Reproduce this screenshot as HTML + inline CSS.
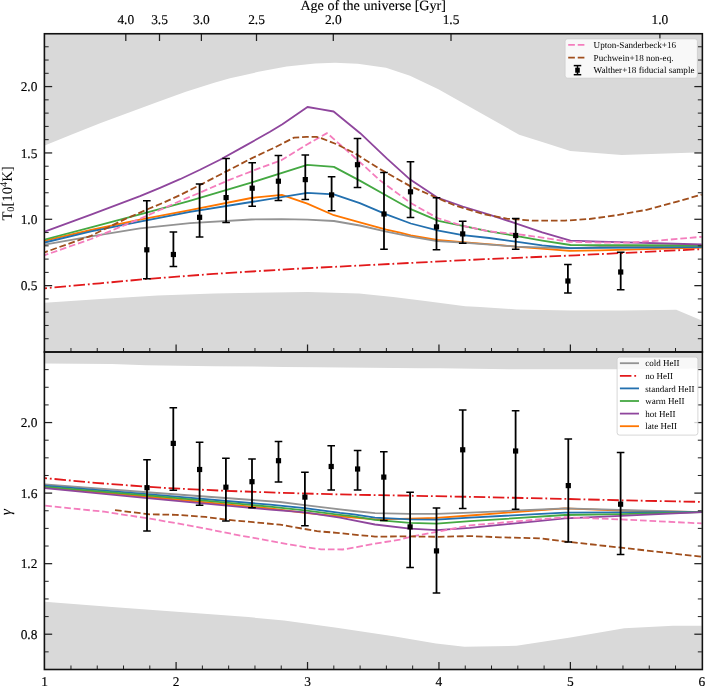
<!DOCTYPE html><html><head><meta charset="utf-8"><style>html,body{margin:0;padding:0;background:#fff;width:705px;height:686px;overflow:hidden}svg{display:block;will-change:transform;text-rendering:geometricPrecision}</style></head><body>
<svg width="705" height="686" viewBox="0 0 705 686">
<defs><clipPath id="ct"><rect x="44.67" y="33.50" width="657.15" height="318.50"/></clipPath><clipPath id="cb"><rect x="44.67" y="352.00" width="657.15" height="317.50"/></clipPath></defs>
<rect width="705" height="686" fill="#fff"/>
<g clip-path="url(#ct)">
<polygon points="44.67,33.50 44.67,145.40 72.40,134.30 100.70,123.00 129.10,112.50 157.50,102.00 185.80,91.80 214.20,82.70 230.00,78.30 242.60,75.60 258.40,71.80 286.70,66.40 315.10,63.50 335.00,62.70 357.70,63.80 386.00,67.80 410.00,75.70 438.40,89.30 519.20,134.70 546.20,143.20 570.30,150.90 621.70,155.00 695.70,152.50 701.82,152.30 701.82,33.50" fill="#d9d9d9"/>
<polygon points="44.67,352.00 44.67,302.80 100.70,299.00 157.50,295.60 214.20,293.50 240.00,293.00 308.10,292.10 359.10,293.50 393.20,296.90 427.20,301.30 465.20,306.30 480.00,307.10 516.60,309.40 570.40,310.60 621.70,310.60 676.20,309.80 701.82,320.50 701.82,352.00" fill="#d9d9d9"/>
<polyline points="44.67,240.60 91.00,230.00 140.00,219.60 190.00,210.20 251.20,198.00 281.80,194.80 307.30,203.60 333.90,215.20 359.80,222.40 386.30,229.60 400.00,232.60 410.80,235.30 437.00,240.00 462.50,242.10 500.00,245.10 515.70,246.70 569.50,250.80 600.00,250.30 701.80,247.60" style="fill:none;stroke:#ff7600;stroke-width:1.8;stroke-linejoin:round"/>
<polyline points="44.67,244.60 91.00,236.30 140.00,228.30 190.00,223.10 251.20,219.50 281.80,219.20 307.30,219.70 333.90,221.00 359.80,225.50 386.30,231.60 400.00,234.40 410.80,236.60 437.00,241.10 462.50,242.70 500.00,245.30 515.70,246.60 569.50,248.40 600.00,246.80 701.80,246.30" style="fill:none;stroke:#939393;stroke-width:1.8;stroke-linejoin:round"/>
<polyline points="44.67,288.30 100.00,283.30 146.80,279.00 213.50,273.90 290.00,269.10 389.30,264.00 480.00,259.40 575.80,255.30 701.80,249.10" style="fill:none;stroke:#e2191b;stroke-width:1.8;stroke-dasharray:11.52,2.88,1.8,2.88;stroke-linejoin:round;stroke-dashoffset:9.20"/>
<polyline points="44.67,242.50 91.00,231.40 140.00,221.70 190.00,211.80 251.20,202.00 307.30,192.90 333.90,194.30 359.80,203.10 386.30,214.30 410.80,223.50 438.40,230.60 462.70,235.10 489.20,238.00 515.70,241.60 542.20,245.30 570.50,248.10 701.80,247.10" style="fill:none;stroke:#2370af;stroke-width:1.8;stroke-linejoin:round"/>
<polyline points="44.67,239.50 91.00,227.30 140.00,214.40 188.00,201.30 251.20,182.70 307.30,164.90 333.90,166.90 359.80,180.60 386.30,195.50 410.80,209.20 438.40,220.80 462.70,225.80 489.20,231.40 515.70,235.90 542.20,240.60 570.50,245.00 701.80,245.50" style="fill:none;stroke:#44a842;stroke-width:1.8;stroke-linejoin:round"/>
<polyline points="44.67,231.60 91.00,214.60 140.00,196.20 160.00,187.80 180.00,179.20 200.00,169.80 220.00,159.70 245.00,145.90 270.00,131.80 282.40,124.20 307.50,107.00 320.00,109.20 333.60,111.50 360.20,133.20 387.00,158.60 410.20,179.60 437.30,197.60 462.70,206.50 489.20,214.70 515.70,223.30 542.20,232.40 570.50,240.60 600.00,241.70 701.80,244.50" style="fill:none;stroke:#8f469d;stroke-width:1.8;stroke-linejoin:round"/>
<polyline points="44.67,255.20 91.00,239.00 140.00,218.80 180.00,201.00 200.00,192.60 228.67,180.20 254.96,169.90 281.24,160.30 300.00,148.70 307.50,144.20 327.00,133.10 355.00,157.70 380.00,180.40 410.20,202.70 437.30,218.00 462.70,225.80 489.20,231.40 515.70,233.90 542.20,237.60 570.10,241.80 605.80,242.70 630.30,242.60 663.00,240.20 701.80,236.80" style="fill:none;stroke:#f47dbd;stroke-width:1.8;stroke-dasharray:6.66,2.88;stroke-linejoin:round;stroke-dashoffset:2.86"/>
<polyline points="44.67,252.30 91.00,235.80 124.40,219.40 148.70,208.80 163.30,202.70 180.00,195.10 200.00,185.00 230.90,169.10 250.00,159.10 275.00,147.30 294.10,137.60 306.40,136.90 316.60,136.90 321.70,138.30 337.50,144.60 355.00,153.40 380.00,169.10 410.20,186.10 436.00,197.50 454.50,205.30 483.10,214.10 507.60,218.80 532.00,220.60 565.00,220.60 589.50,219.00 616.00,215.30 646.60,209.80 677.20,201.60 701.80,194.50" style="fill:none;stroke:#a04e1c;stroke-width:1.8;stroke-dasharray:6.66,2.88;stroke-linejoin:round;stroke-dashoffset:3.36"/>
<g stroke="#000" stroke-width="1.5"><line x1="146.80" y1="200.80" x2="146.80" y2="278.70" stroke-width="1.8"/><line x1="143.00" y1="200.80" x2="150.60" y2="200.80"/><line x1="143.00" y1="278.70" x2="150.60" y2="278.70"/><line x1="173.40" y1="232.10" x2="173.40" y2="266.60" stroke-width="1.8"/><line x1="169.60" y1="232.10" x2="177.20" y2="232.10"/><line x1="169.60" y1="266.60" x2="177.20" y2="266.60"/><line x1="199.60" y1="184.10" x2="199.60" y2="237.10" stroke-width="1.8"/><line x1="195.80" y1="184.10" x2="203.40" y2="184.10"/><line x1="195.80" y1="237.10" x2="203.40" y2="237.10"/><line x1="226.10" y1="158.60" x2="226.10" y2="222.40" stroke-width="1.8"/><line x1="222.30" y1="158.60" x2="229.90" y2="158.60"/><line x1="222.30" y1="222.40" x2="229.90" y2="222.40"/><line x1="252.20" y1="162.70" x2="252.20" y2="206.30" stroke-width="1.8"/><line x1="248.40" y1="162.70" x2="256.00" y2="162.70"/><line x1="248.40" y1="206.30" x2="256.00" y2="206.30"/><line x1="278.40" y1="155.50" x2="278.40" y2="200.60" stroke-width="1.8"/><line x1="274.60" y1="155.50" x2="282.20" y2="155.50"/><line x1="274.60" y1="200.60" x2="282.20" y2="200.60"/><line x1="305.30" y1="155.10" x2="305.30" y2="199.40" stroke-width="1.8"/><line x1="301.50" y1="155.10" x2="309.10" y2="155.10"/><line x1="301.50" y1="199.40" x2="309.10" y2="199.40"/><line x1="331.60" y1="176.70" x2="331.60" y2="210.80" stroke-width="1.8"/><line x1="327.80" y1="176.70" x2="335.40" y2="176.70"/><line x1="327.80" y1="210.80" x2="335.40" y2="210.80"/><line x1="357.50" y1="138.40" x2="357.50" y2="187.60" stroke-width="1.8"/><line x1="353.70" y1="138.40" x2="361.30" y2="138.40"/><line x1="353.70" y1="187.60" x2="361.30" y2="187.60"/><line x1="384.00" y1="172.50" x2="384.00" y2="249.30" stroke-width="1.8"/><line x1="380.20" y1="172.50" x2="387.80" y2="172.50"/><line x1="380.20" y1="249.30" x2="387.80" y2="249.30"/><line x1="410.50" y1="161.70" x2="410.50" y2="217.60" stroke-width="1.8"/><line x1="406.70" y1="161.70" x2="414.30" y2="161.70"/><line x1="406.70" y1="217.60" x2="414.30" y2="217.60"/><line x1="436.50" y1="197.80" x2="436.50" y2="249.80" stroke-width="1.8"/><line x1="432.70" y1="197.80" x2="440.30" y2="197.80"/><line x1="432.70" y1="249.80" x2="440.30" y2="249.80"/><line x1="462.70" y1="221.20" x2="462.70" y2="243.30" stroke-width="1.8"/><line x1="458.90" y1="221.20" x2="466.50" y2="221.20"/><line x1="458.90" y1="243.30" x2="466.50" y2="243.30"/><line x1="515.70" y1="218.60" x2="515.70" y2="249.20" stroke-width="1.8"/><line x1="511.90" y1="218.60" x2="519.50" y2="218.60"/><line x1="511.90" y1="249.20" x2="519.50" y2="249.20"/><line x1="567.90" y1="264.50" x2="567.90" y2="293.10" stroke-width="1.8"/><line x1="564.10" y1="264.50" x2="571.70" y2="264.50"/><line x1="564.10" y1="293.10" x2="571.70" y2="293.10"/><line x1="620.70" y1="252.20" x2="620.70" y2="289.80" stroke-width="1.8"/><line x1="616.90" y1="252.20" x2="624.50" y2="252.20"/><line x1="616.90" y1="289.80" x2="624.50" y2="289.80"/></g><g fill="#000"><rect x="144.20" y="247.20" width="5.2" height="5.2"/><rect x="170.80" y="251.90" width="5.2" height="5.2"/><rect x="197.00" y="214.70" width="5.2" height="5.2"/><rect x="223.50" y="195.00" width="5.2" height="5.2"/><rect x="249.60" y="185.60" width="5.2" height="5.2"/><rect x="275.80" y="178.60" width="5.2" height="5.2"/><rect x="302.70" y="177.00" width="5.2" height="5.2"/><rect x="329.00" y="192.30" width="5.2" height="5.2"/><rect x="354.90" y="162.10" width="5.2" height="5.2"/><rect x="381.40" y="211.40" width="5.2" height="5.2"/><rect x="407.90" y="189.20" width="5.2" height="5.2"/><rect x="433.90" y="224.30" width="5.2" height="5.2"/><rect x="460.10" y="231.30" width="5.2" height="5.2"/><rect x="513.10" y="232.90" width="5.2" height="5.2"/><rect x="565.30" y="278.40" width="5.2" height="5.2"/><rect x="618.10" y="269.40" width="5.2" height="5.2"/></g>
</g>
<g clip-path="url(#cb)">
<polygon points="44.67,352.00 44.67,363.50 112.00,363.90 146.10,365.20 214.20,366.20 284.00,366.90 316.40,367.30 422.80,368.20 440.00,368.30 520.90,369.30 615.20,369.30 701.82,368.60 701.82,352.00" fill="#d9d9d9"/>
<polygon points="44.67,669.50 44.67,601.70 112.10,606.90 180.20,612.00 248.30,617.10 284.00,620.60 336.70,627.80 393.50,636.30 436.00,643.40 464.40,646.80 516.60,645.80 570.40,637.50 624.30,628.20 673.20,625.70 701.82,625.70 701.82,669.50" fill="#d9d9d9"/>
<polyline points="44.67,487.30 150.00,497.00 270.00,508.40 304.80,512.90 340.00,516.40 353.80,517.60 375.00,519.40 409.80,518.70 436.70,517.80 470.00,515.50 565.00,508.30 620.60,510.60 701.80,512.20" style="fill:none;stroke:#ff7600;stroke-width:1.8;stroke-linejoin:round"/>
<polyline points="44.67,484.40 150.00,492.50 280.00,502.00 304.80,505.20 329.60,508.20 353.80,511.00 375.00,513.20 409.80,513.80 436.70,513.80 470.00,512.60 565.00,508.30 620.60,509.90 701.80,512.20" style="fill:none;stroke:#939393;stroke-width:1.8;stroke-linejoin:round"/>
<polyline points="44.67,478.10 95.10,482.80 146.10,486.70 164.00,487.90 220.00,490.60 280.00,492.80 330.00,494.20 380.00,495.20 470.00,496.80 565.00,498.90 620.60,500.30 701.80,501.90" style="fill:none;stroke:#e2191b;stroke-width:1.8;stroke-dasharray:11.52,2.88,1.8,2.88;stroke-linejoin:round;stroke-dashoffset:9.20"/>
<polyline points="44.67,485.70 150.00,494.40 270.00,504.70 304.80,508.10 340.00,512.90 353.80,514.30 375.00,517.60 409.80,519.30 436.70,519.60 470.00,517.60 565.00,512.60 620.60,512.40 701.80,512.20" style="fill:none;stroke:#2370af;stroke-width:1.8;stroke-linejoin:round"/>
<polyline points="44.67,486.80 150.00,495.70 270.00,506.70 304.80,510.40 340.00,514.90 353.80,516.40 375.00,519.80 409.80,522.90 436.70,523.60 470.00,521.20 565.00,515.00 620.60,514.10 701.80,512.20" style="fill:none;stroke:#44a842;stroke-width:1.8;stroke-linejoin:round"/>
<polyline points="44.67,488.20 150.00,498.40 270.00,509.70 304.80,512.40 340.00,517.60 353.80,520.30 375.00,524.50 409.80,528.60 436.70,530.20 470.00,527.80 565.00,518.40 620.60,515.80 701.80,512.20" style="fill:none;stroke:#8f469d;stroke-width:1.8;stroke-linejoin:round"/>
<polyline points="44.67,505.60 104.00,511.70 150.00,518.70 165.00,521.30 186.90,525.00 210.90,529.70 238.00,535.10 270.00,540.80 290.40,544.60 305.00,547.20 321.00,549.30 342.50,549.50 356.70,547.20 370.90,544.40 385.00,542.00 400.00,539.60 409.80,537.00 436.70,531.80 470.00,525.40 565.00,517.20 620.60,519.40 701.80,523.40" style="fill:none;stroke:#f47dbd;stroke-width:1.8;stroke-dasharray:6.66,2.88;stroke-linejoin:round;stroke-dashoffset:-0.60"/>
<polyline points="115.00,510.20 150.00,514.30 175.80,514.80 205.30,516.90 227.40,519.80 253.30,522.20 280.00,524.70 304.80,529.00 317.00,531.20 336.70,532.80 353.80,534.60 375.00,536.60 409.80,536.40 436.70,536.80 470.00,536.10 500.00,537.30 539.70,538.30 567.50,541.80 619.10,547.40 701.80,556.80" style="fill:none;stroke:#a04e1c;stroke-width:1.8;stroke-dasharray:6.66,2.88;stroke-linejoin:round;stroke-dashoffset:0.00"/>
<g stroke="#000" stroke-width="1.5"><line x1="147.00" y1="459.70" x2="147.00" y2="531.10" stroke-width="1.8"/><line x1="143.20" y1="459.70" x2="150.80" y2="459.70"/><line x1="143.20" y1="531.10" x2="150.80" y2="531.10"/><line x1="173.30" y1="407.70" x2="173.30" y2="490.30" stroke-width="1.8"/><line x1="169.50" y1="407.70" x2="177.10" y2="407.70"/><line x1="169.50" y1="490.30" x2="177.10" y2="490.30"/><line x1="199.60" y1="442.30" x2="199.60" y2="505.20" stroke-width="1.8"/><line x1="195.80" y1="442.30" x2="203.40" y2="442.30"/><line x1="195.80" y1="505.20" x2="203.40" y2="505.20"/><line x1="225.90" y1="458.30" x2="225.90" y2="520.90" stroke-width="1.8"/><line x1="222.10" y1="458.30" x2="229.70" y2="458.30"/><line x1="222.10" y1="520.90" x2="229.70" y2="520.90"/><line x1="252.00" y1="458.90" x2="252.00" y2="507.70" stroke-width="1.8"/><line x1="248.20" y1="458.90" x2="255.80" y2="458.90"/><line x1="248.20" y1="507.70" x2="255.80" y2="507.70"/><line x1="278.50" y1="441.50" x2="278.50" y2="482.00" stroke-width="1.8"/><line x1="274.70" y1="441.50" x2="282.30" y2="441.50"/><line x1="274.70" y1="482.00" x2="282.30" y2="482.00"/><line x1="304.90" y1="472.20" x2="304.90" y2="525.70" stroke-width="1.8"/><line x1="301.10" y1="472.20" x2="308.70" y2="472.20"/><line x1="301.10" y1="525.70" x2="308.70" y2="525.70"/><line x1="331.20" y1="445.70" x2="331.20" y2="490.00" stroke-width="1.8"/><line x1="327.40" y1="445.70" x2="335.00" y2="445.70"/><line x1="327.40" y1="490.00" x2="335.00" y2="490.00"/><line x1="357.60" y1="450.60" x2="357.60" y2="490.00" stroke-width="1.8"/><line x1="353.80" y1="450.60" x2="361.40" y2="450.60"/><line x1="353.80" y1="490.00" x2="361.40" y2="490.00"/><line x1="383.80" y1="451.70" x2="383.80" y2="520.40" stroke-width="1.8"/><line x1="380.00" y1="451.70" x2="387.60" y2="451.70"/><line x1="380.00" y1="520.40" x2="387.60" y2="520.40"/><line x1="410.10" y1="492.30" x2="410.10" y2="567.50" stroke-width="1.8"/><line x1="406.30" y1="492.30" x2="413.90" y2="492.30"/><line x1="406.30" y1="567.50" x2="413.90" y2="567.50"/><line x1="436.50" y1="508.00" x2="436.50" y2="593.00" stroke-width="1.8"/><line x1="432.70" y1="508.00" x2="440.30" y2="508.00"/><line x1="432.70" y1="593.00" x2="440.30" y2="593.00"/><line x1="462.70" y1="409.90" x2="462.70" y2="508.50" stroke-width="1.8"/><line x1="458.90" y1="409.90" x2="466.50" y2="409.90"/><line x1="458.90" y1="508.50" x2="466.50" y2="508.50"/><line x1="515.60" y1="410.80" x2="515.60" y2="509.30" stroke-width="1.8"/><line x1="511.80" y1="410.80" x2="519.40" y2="410.80"/><line x1="511.80" y1="509.30" x2="519.40" y2="509.30"/><line x1="568.30" y1="439.10" x2="568.30" y2="541.90" stroke-width="1.8"/><line x1="564.50" y1="439.10" x2="572.10" y2="439.10"/><line x1="564.50" y1="541.90" x2="572.10" y2="541.90"/><line x1="620.60" y1="452.40" x2="620.60" y2="554.40" stroke-width="1.8"/><line x1="616.80" y1="452.40" x2="624.40" y2="452.40"/><line x1="616.80" y1="554.40" x2="624.40" y2="554.40"/></g><g fill="#000"><rect x="144.40" y="485.10" width="5.2" height="5.2"/><rect x="170.70" y="440.80" width="5.2" height="5.2"/><rect x="197.00" y="466.90" width="5.2" height="5.2"/><rect x="223.30" y="484.60" width="5.2" height="5.2"/><rect x="249.40" y="479.10" width="5.2" height="5.2"/><rect x="275.90" y="458.10" width="5.2" height="5.2"/><rect x="302.30" y="494.50" width="5.2" height="5.2"/><rect x="328.60" y="463.90" width="5.2" height="5.2"/><rect x="355.00" y="466.40" width="5.2" height="5.2"/><rect x="381.20" y="474.50" width="5.2" height="5.2"/><rect x="407.50" y="524.30" width="5.2" height="5.2"/><rect x="433.90" y="548.30" width="5.2" height="5.2"/><rect x="460.10" y="447.20" width="5.2" height="5.2"/><rect x="513.00" y="448.40" width="5.2" height="5.2"/><rect x="565.70" y="483.00" width="5.2" height="5.2"/><rect x="618.00" y="501.60" width="5.2" height="5.2"/></g>
</g>
<g stroke="#222">
<line x1="44.67" y1="285.65" x2="52.17" y2="285.65" stroke-width="1.25"/><line x1="701.82" y1="285.65" x2="694.32" y2="285.65" stroke-width="1.25"/><line x1="44.67" y1="219.29" x2="52.17" y2="219.29" stroke-width="1.25"/><line x1="701.82" y1="219.29" x2="694.32" y2="219.29" stroke-width="1.25"/><line x1="44.67" y1="152.94" x2="52.17" y2="152.94" stroke-width="1.25"/><line x1="701.82" y1="152.94" x2="694.32" y2="152.94" stroke-width="1.25"/><line x1="44.67" y1="86.58" x2="52.17" y2="86.58" stroke-width="1.25"/><line x1="701.82" y1="86.58" x2="694.32" y2="86.58" stroke-width="1.25"/><line x1="44.67" y1="338.73" x2="48.67" y2="338.73" stroke-width="1"/><line x1="701.82" y1="338.73" x2="697.82" y2="338.73" stroke-width="1"/><line x1="44.67" y1="325.46" x2="48.67" y2="325.46" stroke-width="1"/><line x1="701.82" y1="325.46" x2="697.82" y2="325.46" stroke-width="1"/><line x1="44.67" y1="312.19" x2="48.67" y2="312.19" stroke-width="1"/><line x1="701.82" y1="312.19" x2="697.82" y2="312.19" stroke-width="1"/><line x1="44.67" y1="298.92" x2="48.67" y2="298.92" stroke-width="1"/><line x1="701.82" y1="298.92" x2="697.82" y2="298.92" stroke-width="1"/><line x1="44.67" y1="272.38" x2="48.67" y2="272.38" stroke-width="1"/><line x1="701.82" y1="272.38" x2="697.82" y2="272.38" stroke-width="1"/><line x1="44.67" y1="259.10" x2="48.67" y2="259.10" stroke-width="1"/><line x1="701.82" y1="259.10" x2="697.82" y2="259.10" stroke-width="1"/><line x1="44.67" y1="245.83" x2="48.67" y2="245.83" stroke-width="1"/><line x1="701.82" y1="245.83" x2="697.82" y2="245.83" stroke-width="1"/><line x1="44.67" y1="232.56" x2="48.67" y2="232.56" stroke-width="1"/><line x1="701.82" y1="232.56" x2="697.82" y2="232.56" stroke-width="1"/><line x1="44.67" y1="206.02" x2="48.67" y2="206.02" stroke-width="1"/><line x1="701.82" y1="206.02" x2="697.82" y2="206.02" stroke-width="1"/><line x1="44.67" y1="192.75" x2="48.67" y2="192.75" stroke-width="1"/><line x1="701.82" y1="192.75" x2="697.82" y2="192.75" stroke-width="1"/><line x1="44.67" y1="179.48" x2="48.67" y2="179.48" stroke-width="1"/><line x1="701.82" y1="179.48" x2="697.82" y2="179.48" stroke-width="1"/><line x1="44.67" y1="166.21" x2="48.67" y2="166.21" stroke-width="1"/><line x1="701.82" y1="166.21" x2="697.82" y2="166.21" stroke-width="1"/><line x1="44.67" y1="139.67" x2="48.67" y2="139.67" stroke-width="1"/><line x1="701.82" y1="139.67" x2="697.82" y2="139.67" stroke-width="1"/><line x1="44.67" y1="126.40" x2="48.67" y2="126.40" stroke-width="1"/><line x1="701.82" y1="126.40" x2="697.82" y2="126.40" stroke-width="1"/><line x1="44.67" y1="113.12" x2="48.67" y2="113.12" stroke-width="1"/><line x1="701.82" y1="113.12" x2="697.82" y2="113.12" stroke-width="1"/><line x1="44.67" y1="99.85" x2="48.67" y2="99.85" stroke-width="1"/><line x1="701.82" y1="99.85" x2="697.82" y2="99.85" stroke-width="1"/><line x1="44.67" y1="73.31" x2="48.67" y2="73.31" stroke-width="1"/><line x1="701.82" y1="73.31" x2="697.82" y2="73.31" stroke-width="1"/><line x1="44.67" y1="60.04" x2="48.67" y2="60.04" stroke-width="1"/><line x1="701.82" y1="60.04" x2="697.82" y2="60.04" stroke-width="1"/><line x1="44.67" y1="46.77" x2="48.67" y2="46.77" stroke-width="1"/><line x1="701.82" y1="46.77" x2="697.82" y2="46.77" stroke-width="1"/>
<line x1="44.67" y1="634.22" x2="52.17" y2="634.22" stroke-width="1.25"/><line x1="701.82" y1="634.22" x2="694.32" y2="634.22" stroke-width="1.25"/><line x1="44.67" y1="563.67" x2="52.17" y2="563.67" stroke-width="1.25"/><line x1="701.82" y1="563.67" x2="694.32" y2="563.67" stroke-width="1.25"/><line x1="44.67" y1="493.11" x2="52.17" y2="493.11" stroke-width="1.25"/><line x1="701.82" y1="493.11" x2="694.32" y2="493.11" stroke-width="1.25"/><line x1="44.67" y1="422.56" x2="52.17" y2="422.56" stroke-width="1.25"/><line x1="701.82" y1="422.56" x2="694.32" y2="422.56" stroke-width="1.25"/><line x1="44.67" y1="651.86" x2="48.67" y2="651.86" stroke-width="1"/><line x1="701.82" y1="651.86" x2="697.82" y2="651.86" stroke-width="1"/><line x1="44.67" y1="616.58" x2="48.67" y2="616.58" stroke-width="1"/><line x1="701.82" y1="616.58" x2="697.82" y2="616.58" stroke-width="1"/><line x1="44.67" y1="598.94" x2="48.67" y2="598.94" stroke-width="1"/><line x1="701.82" y1="598.94" x2="697.82" y2="598.94" stroke-width="1"/><line x1="44.67" y1="581.31" x2="48.67" y2="581.31" stroke-width="1"/><line x1="701.82" y1="581.31" x2="697.82" y2="581.31" stroke-width="1"/><line x1="44.67" y1="546.03" x2="48.67" y2="546.03" stroke-width="1"/><line x1="701.82" y1="546.03" x2="697.82" y2="546.03" stroke-width="1"/><line x1="44.67" y1="528.39" x2="48.67" y2="528.39" stroke-width="1"/><line x1="701.82" y1="528.39" x2="697.82" y2="528.39" stroke-width="1"/><line x1="44.67" y1="510.75" x2="48.67" y2="510.75" stroke-width="1"/><line x1="701.82" y1="510.75" x2="697.82" y2="510.75" stroke-width="1"/><line x1="44.67" y1="475.47" x2="48.67" y2="475.47" stroke-width="1"/><line x1="701.82" y1="475.47" x2="697.82" y2="475.47" stroke-width="1"/><line x1="44.67" y1="457.83" x2="48.67" y2="457.83" stroke-width="1"/><line x1="701.82" y1="457.83" x2="697.82" y2="457.83" stroke-width="1"/><line x1="44.67" y1="440.19" x2="48.67" y2="440.19" stroke-width="1"/><line x1="701.82" y1="440.19" x2="697.82" y2="440.19" stroke-width="1"/><line x1="44.67" y1="404.92" x2="48.67" y2="404.92" stroke-width="1"/><line x1="701.82" y1="404.92" x2="697.82" y2="404.92" stroke-width="1"/><line x1="44.67" y1="387.28" x2="48.67" y2="387.28" stroke-width="1"/><line x1="701.82" y1="387.28" x2="697.82" y2="387.28" stroke-width="1"/><line x1="44.67" y1="369.64" x2="48.67" y2="369.64" stroke-width="1"/><line x1="701.82" y1="369.64" x2="697.82" y2="369.64" stroke-width="1"/>
<line x1="70.96" y1="352.00" x2="70.96" y2="348.00" stroke-width="1"/><line x1="97.24" y1="352.00" x2="97.24" y2="348.00" stroke-width="1"/><line x1="123.53" y1="352.00" x2="123.53" y2="348.00" stroke-width="1"/><line x1="149.81" y1="352.00" x2="149.81" y2="348.00" stroke-width="1"/><line x1="176.10" y1="352.00" x2="176.10" y2="344.50" stroke-width="1.25"/><line x1="202.39" y1="352.00" x2="202.39" y2="348.00" stroke-width="1"/><line x1="228.67" y1="352.00" x2="228.67" y2="348.00" stroke-width="1"/><line x1="254.96" y1="352.00" x2="254.96" y2="348.00" stroke-width="1"/><line x1="281.24" y1="352.00" x2="281.24" y2="348.00" stroke-width="1"/><line x1="307.53" y1="352.00" x2="307.53" y2="344.50" stroke-width="1.25"/><line x1="333.82" y1="352.00" x2="333.82" y2="348.00" stroke-width="1"/><line x1="360.10" y1="352.00" x2="360.10" y2="348.00" stroke-width="1"/><line x1="386.39" y1="352.00" x2="386.39" y2="348.00" stroke-width="1"/><line x1="412.67" y1="352.00" x2="412.67" y2="348.00" stroke-width="1"/><line x1="438.96" y1="352.00" x2="438.96" y2="344.50" stroke-width="1.25"/><line x1="465.25" y1="352.00" x2="465.25" y2="348.00" stroke-width="1"/><line x1="491.53" y1="352.00" x2="491.53" y2="348.00" stroke-width="1"/><line x1="517.82" y1="352.00" x2="517.82" y2="348.00" stroke-width="1"/><line x1="544.10" y1="352.00" x2="544.10" y2="348.00" stroke-width="1"/><line x1="570.39" y1="352.00" x2="570.39" y2="344.50" stroke-width="1.25"/><line x1="596.68" y1="352.00" x2="596.68" y2="348.00" stroke-width="1"/><line x1="622.96" y1="352.00" x2="622.96" y2="348.00" stroke-width="1"/><line x1="649.25" y1="352.00" x2="649.25" y2="348.00" stroke-width="1"/><line x1="675.53" y1="352.00" x2="675.53" y2="348.00" stroke-width="1"/>
<line x1="70.96" y1="669.50" x2="70.96" y2="665.50" stroke-width="1"/><line x1="97.24" y1="669.50" x2="97.24" y2="665.50" stroke-width="1"/><line x1="123.53" y1="669.50" x2="123.53" y2="665.50" stroke-width="1"/><line x1="149.81" y1="669.50" x2="149.81" y2="665.50" stroke-width="1"/><line x1="176.10" y1="669.50" x2="176.10" y2="662.00" stroke-width="1.25"/><line x1="202.39" y1="669.50" x2="202.39" y2="665.50" stroke-width="1"/><line x1="228.67" y1="669.50" x2="228.67" y2="665.50" stroke-width="1"/><line x1="254.96" y1="669.50" x2="254.96" y2="665.50" stroke-width="1"/><line x1="281.24" y1="669.50" x2="281.24" y2="665.50" stroke-width="1"/><line x1="307.53" y1="669.50" x2="307.53" y2="662.00" stroke-width="1.25"/><line x1="333.82" y1="669.50" x2="333.82" y2="665.50" stroke-width="1"/><line x1="360.10" y1="669.50" x2="360.10" y2="665.50" stroke-width="1"/><line x1="386.39" y1="669.50" x2="386.39" y2="665.50" stroke-width="1"/><line x1="412.67" y1="669.50" x2="412.67" y2="665.50" stroke-width="1"/><line x1="438.96" y1="669.50" x2="438.96" y2="662.00" stroke-width="1.25"/><line x1="465.25" y1="669.50" x2="465.25" y2="665.50" stroke-width="1"/><line x1="491.53" y1="669.50" x2="491.53" y2="665.50" stroke-width="1"/><line x1="517.82" y1="669.50" x2="517.82" y2="665.50" stroke-width="1"/><line x1="544.10" y1="669.50" x2="544.10" y2="665.50" stroke-width="1"/><line x1="570.39" y1="669.50" x2="570.39" y2="662.00" stroke-width="1.25"/><line x1="596.68" y1="669.50" x2="596.68" y2="665.50" stroke-width="1"/><line x1="622.96" y1="669.50" x2="622.96" y2="665.50" stroke-width="1"/><line x1="649.25" y1="669.50" x2="649.25" y2="665.50" stroke-width="1"/><line x1="675.53" y1="669.50" x2="675.53" y2="665.50" stroke-width="1"/>
<line x1="125.80" y1="33.50" x2="125.80" y2="41.00" stroke-width="1.25"/>
<line x1="159.50" y1="33.50" x2="159.50" y2="41.00" stroke-width="1.25"/>
<line x1="201.40" y1="33.50" x2="201.40" y2="41.00" stroke-width="1.25"/>
<line x1="256.50" y1="33.50" x2="256.50" y2="41.00" stroke-width="1.25"/>
<line x1="333.30" y1="33.50" x2="333.30" y2="41.00" stroke-width="1.25"/>
<line x1="451.00" y1="33.50" x2="451.00" y2="41.00" stroke-width="1.25"/>
<line x1="659.90" y1="33.50" x2="659.90" y2="41.00" stroke-width="1.25"/>
</g>
<g fill="none" stroke="#111" stroke-width="1.6">
<rect x="44.40" y="33.75" width="657.95" height="318.25"/>
<rect x="44.40" y="352.00" width="657.95" height="317.50"/>
</g>
<g style="font-family:&quot;Liberation Serif&quot;,serif;font-size:13.4px" fill="#000" stroke="#000" stroke-width="0.15"><text transform="translate(37.4,290.25) scale(1,1.0)" text-anchor="end">0.5</text><text transform="translate(37.4,223.89) scale(1,1.0)" text-anchor="end">1.0</text><text transform="translate(37.4,157.54) scale(1,1.0)" text-anchor="end">1.5</text><text transform="translate(37.4,91.18) scale(1,1.0)" text-anchor="end">2.0</text><text transform="translate(37.4,638.82) scale(1,1.0)" text-anchor="end">0.8</text><text transform="translate(37.4,568.27) scale(1,1.0)" text-anchor="end">1.2</text><text transform="translate(37.4,497.71) scale(1,1.0)" text-anchor="end">1.6</text><text transform="translate(37.4,427.16) scale(1,1.0)" text-anchor="end">2.0</text><text transform="translate(44.67,686.2) scale(1,1.0)" text-anchor="middle">1</text><text transform="translate(176.10,686.2) scale(1,1.0)" text-anchor="middle">2</text><text transform="translate(307.53,686.2) scale(1,1.0)" text-anchor="middle">3</text><text transform="translate(438.96,686.2) scale(1,1.0)" text-anchor="middle">4</text><text transform="translate(570.39,686.2) scale(1,1.0)" text-anchor="middle">5</text><text transform="translate(701.82,686.2) scale(1,1.0)" text-anchor="middle">6</text><text transform="translate(125.80,24.2) scale(1,1.0)" text-anchor="middle">4.0</text><text transform="translate(159.50,24.2) scale(1,1.0)" text-anchor="middle">3.5</text><text transform="translate(201.40,24.2) scale(1,1.0)" text-anchor="middle">3.0</text><text transform="translate(256.50,24.2) scale(1,1.0)" text-anchor="middle">2.5</text><text transform="translate(333.30,24.2) scale(1,1.0)" text-anchor="middle">2.0</text><text transform="translate(451.00,24.2) scale(1,1.0)" text-anchor="middle">1.5</text><text transform="translate(659.90,24.2) scale(1,1.0)" text-anchor="middle">1.0</text></g>
<text x="373.2" y="10.3" text-anchor="middle" stroke="#000" stroke-width="0.12" style="font-family:&quot;Liberation Serif&quot;,serif;font-size:14.1px">Age of the universe [Gyr]</text>
<text transform="translate(12.4,193.5) rotate(-90)" text-anchor="middle" style="font-family:&quot;Liberation Serif&quot;,serif;font-size:14.6px">T<tspan dy="1.4" font-size="10.2px">0</tspan><tspan dy="-1.4">[10</tspan><tspan dy="-5.5" font-size="10.4px">4</tspan><tspan dy="5.5">K]</tspan></text>
<text transform="translate(10.9,512.2) rotate(-90)" text-anchor="middle" style="font-family:&quot;Liberation Serif&quot;,serif;font-size:15.5px;font-style:italic">γ</text>
<rect x="565.10" y="38.80" width="132.30" height="39.40" rx="2.5" fill="#fff" fill-opacity="0.8" stroke="#ccc" stroke-opacity="0.8" stroke-width="1"/><line x1="568.20" y1="44.80" x2="584.70" y2="44.80" style="stroke:#f47dbd;stroke-width:1.8;stroke-dasharray:6.66,2.88"/><text x="593.60" y="48.00" style="font-family:&quot;Liberation Serif&quot;,serif;font-size:9.1px">Upton-Sanderbeck+16</text><line x1="568.20" y1="57.60" x2="584.70" y2="57.60" style="stroke:#a04e1c;stroke-width:1.8;stroke-dasharray:6.66,2.88"/><text x="593.60" y="60.80" style="font-family:&quot;Liberation Serif&quot;,serif;font-size:9.1px">Puchwein+18 non-eq.</text><g stroke="#000" stroke-width="1.5"><line x1="577.50" y1="65.60" x2="577.50" y2="74.70"/><line x1="573.75" y1="65.60" x2="581.25" y2="65.60"/><line x1="573.75" y1="74.70" x2="581.25" y2="74.70"/></g><rect x="575.20" y="67.70" width="4.6" height="5"/><text x="593.60" y="73.40" style="font-family:&quot;Liberation Serif&quot;,serif;font-size:9.1px">Walther+18 fiducial sample</text>
<rect x="617.10" y="357.10" width="80.80" height="78.00" rx="2.5" fill="#fff" fill-opacity="0.8" stroke="#ccc" stroke-opacity="0.8" stroke-width="1"/><line x1="619.90" y1="363.20" x2="639.00" y2="363.20" style="stroke:#939393;stroke-width:1.8"/><text x="645.20" y="366.40" style="font-family:&quot;Liberation Serif&quot;,serif;font-size:9px">cold HeII</text><line x1="619.90" y1="375.80" x2="639.00" y2="375.80" style="stroke:#e2191b;stroke-width:1.8;stroke-dasharray:11.52,2.88,1.8,2.88"/><text x="645.20" y="379.00" style="font-family:&quot;Liberation Serif&quot;,serif;font-size:9px">no HeII</text><line x1="619.90" y1="388.40" x2="639.00" y2="388.40" style="stroke:#2370af;stroke-width:1.8"/><text x="645.20" y="391.60" style="font-family:&quot;Liberation Serif&quot;,serif;font-size:9px">standard HeII</text><line x1="619.90" y1="401.00" x2="639.00" y2="401.00" style="stroke:#44a842;stroke-width:1.8"/><text x="645.20" y="404.20" style="font-family:&quot;Liberation Serif&quot;,serif;font-size:9px">warm HeII</text><line x1="619.90" y1="413.60" x2="639.00" y2="413.60" style="stroke:#8f469d;stroke-width:1.8"/><text x="645.20" y="416.80" style="font-family:&quot;Liberation Serif&quot;,serif;font-size:9px">hot HeII</text><line x1="619.90" y1="426.20" x2="639.00" y2="426.20" style="stroke:#ff7600;stroke-width:1.8"/><text x="645.20" y="429.40" style="font-family:&quot;Liberation Serif&quot;,serif;font-size:9px">late HeII</text>
</svg></body></html>
